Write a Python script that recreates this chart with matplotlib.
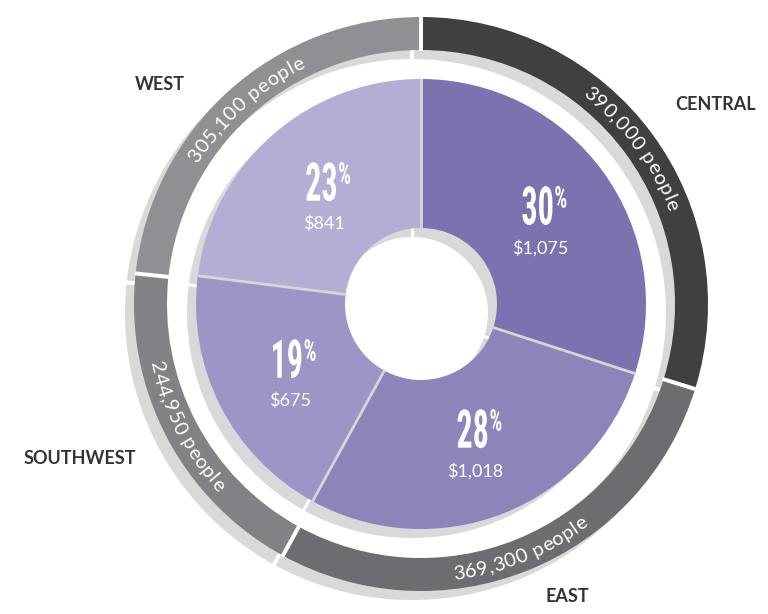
import numpy as np
import matplotlib
matplotlib.use("Agg")
import matplotlib.pyplot as plt
from matplotlib.patheffects import AbstractPathEffect
from matplotlib.transforms import Affine2D
from matplotlib.font_manager import FontProperties, findfont, get_font
from matplotlib.textpath import TextPath

# ---------------- data ----------------
regions = ["CENTRAL", "EAST", "SOUTHWEST", "WEST"]
population = [390000, 369300, 244950, 305100]
share_pct = [30, 28, 19, 23]
avg_spend = [1075, 1018, 675, 841]

outer_colors = ["#404040", "#6c6d71", "#818286", "#8f9094"]
inner_colors = ["#7b73b0", "#8b85ba", "#9d95c6", "#b4aed4"]
shadow_color = "#d9d9d9"
label_color = "#333333"

# region name label positions (pixels relative to chart centre; layout only)
region_label_xy = {"CENTRAL": (295, 200), "EAST": (146, -292),
                   "SOUTHWEST": (-341, -154), "WEST": (-261, 220)}

# ---------------- figure ----------------
W, H = 768, 614
CX, CY = 421, 304
fig = plt.figure(figsize=(W / 100, H / 100), dpi=100)
fig.patch.set_facecolor("white")
ax = fig.add_axes([0, 0, 1, 1])

R_OUT, W_OUT = 287, 33
R_IN, W_IN = 225, 149
SH = 9  # shadow offset


def ring(values, radius, width, colors, sep_color, sep_lw, shadow_sep_lw):
    total = float(sum(values))
    cum = np.concatenate([[0], np.cumsum(values)[:-1]])
    angs = np.deg2rad(90 - 360 * cum / total)
    for off, cols, z, scol, slw in [((-SH, -SH), [shadow_color] * len(values), 1, "white", shadow_sep_lw),
                                    ((0, 0), colors, 3, sep_color, sep_lw)]:
        ax.pie(values, radius=radius, center=off, startangle=90, counterclock=False,
               colors=cols, wedgeprops=dict(width=width, linewidth=0, zorder=z))
        r0, r1 = radius - width - 1, radius + 1
        for a in angs:
            ax.plot([off[0] + r0 * np.cos(a), off[0] + r1 * np.cos(a)],
                    [off[1] + r0 * np.sin(a), off[1] + r1 * np.sin(a)],
                    color=scol, lw=slw, solid_capstyle="butt", zorder=z + 0.5)
    mids = 90 - 360 * (cum + np.array(values) / 2.0) / total
    return mids


outer_mid = ring(population, R_OUT, W_OUT, outer_colors, "white", 2.9, 2.9)
inner_mid = ring(share_pct, R_IN, W_IN, inner_colors, "#d6d6d6", 2.0, 2.2)

ax.set_aspect("auto")
ax.set_xlim(-CX, W - CX)
ax.set_ylim(-(H - CY), CY)
ax.axis("off")


# ---------------- condensed percent text ----------------
class Squeeze(AbstractPathEffect):
    def __init__(self, sx, anchor="center"):
        super().__init__()
        self.sx = sx
        self.anchor = anchor

    def draw_path(self, renderer, gc, tpath, affine, rgbFace=None):
        ext = tpath.get_extents(affine)
        x0 = {"left": ext.x0, "right": ext.x1, "center": 0.5 * (ext.x0 + ext.x1)}[self.anchor]
        aff = affine + Affine2D().translate(-x0, 0).scale(self.sx, 1).translate(x0, 0)
        renderer.draw_path(gc, tpath, aff, rgbFace)


num_family = "DejaVu Sans"
for fam in ["Liberation Sans Narrow", "Roboto Condensed", "DejaVu Sans"]:
    try:
        findfont(FontProperties(family=fam, weight="bold"), fallback_to_default=False)
        num_family = fam
        break
    except Exception:
        pass
num_prop = FontProperties(family=num_family, weight="bold")
e0 = TextPath((0, 0), "0", size=100, prop=num_prop).get_extents()
digit_h_frac = e0.height / 100.0
DIGIT_H = 39.0
sx_num = 0.34 / (e0.width / e0.height)
num_size_pt = DIGIT_H / digit_h_frac * 0.72

ep = TextPath((0, 0), "%", size=100, prop=num_prop).get_extents()
PCT_H = 22.0
pct_size_pt = PCT_H / (ep.height / 100.0) * 0.72
sx_pct = 0.5 / (ep.width / ep.height)

sub_family = ["Lato", "DejaVu Sans"]

for m, pct, spend in zip(inner_mid, share_pct, avg_spend):
    a = np.deg2rad(m)
    gx, gy = 147 * np.cos(a), -9 + 147 * np.sin(a)
    dy_center = gy + 21.5
    base = dy_center - DIGIT_H / 2
    s = f"{pct}"
    tp_ext = TextPath((0, 0), s, size=100, prop=num_prop).get_extents()
    scale = (num_size_pt / 0.72) / 100
    w_px = tp_ext.width * scale * sx_num
    x_r = gx + w_px / 2
    ax.text(x_r, base, s, color="white", fontproperties=FontProperties(family=num_family, weight="bold",
            size=num_size_pt), ha="right", va="baseline", zorder=10,
            path_effects=[Squeeze(sx_num, "right")])
    ax.text(x_r - 1, base + DIGIT_H - PCT_H, "%", color="white",
            fontproperties=FontProperties(family=num_family, weight="bold", size=pct_size_pt),
            ha="left", va="baseline", zorder=10, path_effects=[Squeeze(sx_pct, "left")])
    ax.text(gx, gy - 21.5, f"${spend:,}", color="white", family=sub_family, fontsize=13,
            ha="center", va="center", zorder=10)

# ---------------- curved population labels ----------------
curve_size = 14.5
curve_prop = FontProperties(family=["Lato", "DejaVu Sans"], size=curve_size)
cfont = get_font(findfont(FontProperties(family="Lato")))
cfont.set_size(curve_size, 100)
CAP = 14.0
TRACK = 0.6  # extra letter spacing in pixels
r_mid = R_OUT - W_OUT / 2.0

for m, pop in zip(outer_mid, population):
    s = f"{pop:,} people"
    adv = [cfont.load_char(ord(c)).linearHoriAdvance / 65536.0 + TRACK for c in s]
    total = sum(adv)
    pos = np.cumsum([0] + adv[:-1]) + np.array(adv) / 2 - total / 2
    cw = np.sin(np.deg2rad(m)) > 0
    rb = r_mid - CAP / 2 if cw else r_mid + CAP / 2
    for c, p in zip(s, pos):
        if c == " ":
            continue
        th = m - np.rad2deg(p / rb) if cw else m + np.rad2deg(p / rb)
        rot = th - 90 if cw else th + 90
        t = np.deg2rad(th)
        ax.text(rb * np.cos(t), rb * np.sin(t), c, color="white", fontproperties=curve_prop,
                rotation=rot, rotation_mode="anchor", ha="center", va="baseline", zorder=10)

# ---------------- region names ----------------
for name in regions:
    x, y = region_label_xy[name]
    ax.text(x, y, name, color=label_color, family=["Lato", "DejaVu Sans"], fontweight="bold",
            fontsize=13, ha="center", va="center")

fig.savefig("out.png", dpi=100, facecolor="white")
